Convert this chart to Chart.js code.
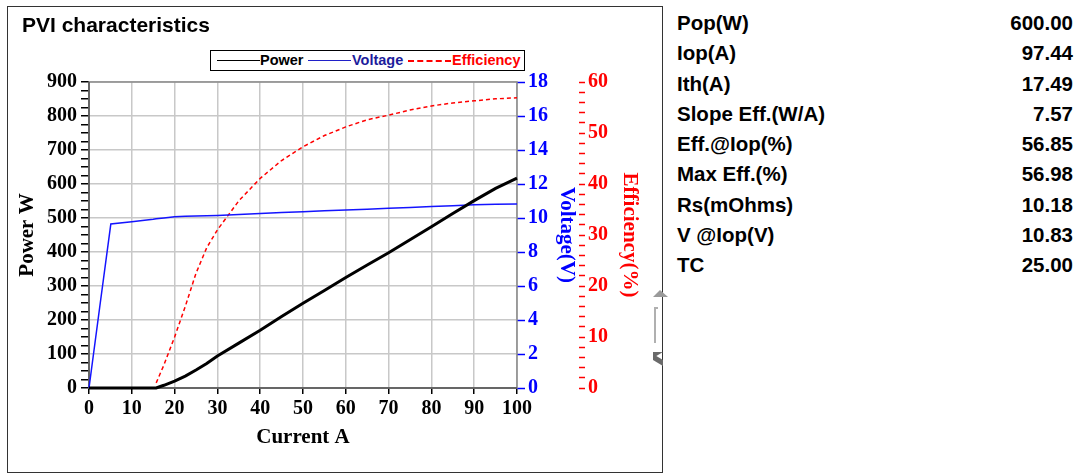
<!DOCTYPE html>
<html>
<head>
<meta charset="utf-8">
<script src="https://cdn.jsdelivr.net/npm/chart.js@4.4.1/dist/chart.umd.min.js"></script>
<style>
html,body{margin:0;padding:0;background:#fff;width:1085px;height:475px;overflow:hidden;}
#frame{position:absolute;left:7px;top:6px;width:656px;height:467px;border:1.5px solid #333;box-sizing:border-box;}
#wrap{position:absolute;left:0;top:0;width:670px;height:475px;}
#title{position:absolute;left:22px;top:14px;font:bold 21px/21px 'Liberation Sans',Arial,sans-serif;color:#000;white-space:nowrap;}
#legend{position:absolute;left:210px;top:50px;width:315px;height:21px;border:1.5px solid #000;box-sizing:border-box;background:#fff;font:bold 14.5px/18px 'Liberation Sans',Arial,sans-serif;}
#legend .sw{position:absolute;top:9px;height:0;width:43px;}
#legend .tx{position:absolute;top:0;white-space:nowrap;}
#table{position:absolute;left:677px;top:8px;width:396px;font:bold 20.5px/30.3px 'Liberation Sans',Arial,sans-serif;color:#000;}
#table .row{display:flex;justify-content:space-between;height:30.3px;white-space:nowrap;}
.art{position:absolute;}
</style>
</head>
<body>
<div id="frame"></div>
<div id="wrap"><canvas id="c"></canvas></div>
<div id="title">PVI characteristics</div>
<div id="legend">
  <span class="sw" style="left:6px;border-top:1.5px solid #000;"></span>
  <span class="tx" style="left:49px;color:#000;">Power</span>
  <span class="sw" style="left:97px;border-top:1.5px solid #2020c8;"></span>
  <span class="tx" style="left:141px;color:#1c1c9c;">Voltage</span>
  <span class="sw" style="left:197px;border-top:2px dashed #ff0000;"></span>
  <span class="tx" style="left:241px;color:#ff0000;">Efficiency</span>
</div>
<div id="table"></div>
<div class="art" style="left:653px;top:290px;width:0;height:0;border-left:7px solid transparent;border-right:8px solid transparent;border-bottom:7px solid #9a9a9a;"></div>
<div class="art" style="left:654px;top:307px;width:2px;height:36px;background:#b0b0b0;"></div>
<div class="art" style="left:654px;top:307px;width:4px;height:2px;background:#b0b0b0;"></div>
<div class="art" style="left:653px;top:352px;width:0;height:0;border-top:6px solid #6a6a6a;border-right:10px solid transparent;"></div>
<div class="art" style="left:653px;top:357px;width:10px;height:6px;background:#6a6a6a;transform:skewY(30deg);"></div>
<script>
// ---- data ----
const currentA      = [0, 2.5, 5.1, 10, 15, 15.7, 17.5, 20, 22.5, 25, 27.5, 30, 35, 40, 45, 50, 55, 60, 65, 70, 75, 80, 85, 90, 95, 100];
const powerW        = [0, 0, 0, 0, 0, 0, 8, 20, 35, 53, 72, 94, 132, 170, 210, 249, 287, 325, 362, 398, 436, 474, 513, 551, 587, 617];
const voltageV      = [0, 4.75, 9.65, 9.78, 9.92, 9.95, 10.0, 10.08, 10.1, 10.12, 10.13, 10.15, 10.2, 10.27, 10.32, 10.37, 10.42, 10.47, 10.52, 10.57, 10.62, 10.67, 10.72, 10.78, 10.81, 10.83];
const efficiencyPct = [null, null, null, null, null, 1, 4.5, 10, 16, 22.5, 27.5, 31, 36.7, 41.1, 44.6, 47.3, 49.5, 51.2, 52.6, 53.5, 54.5, 55.3, 55.9, 56.3, 56.7, 56.9];

const tableLabels = ['Pop(W)', 'Iop(A)', 'Ith(A)', 'Slope Eff.(W/A)', 'Eff.@Iop(%)', 'Max Eff.(%)', 'Rs(mOhms)', 'V @Iop(V)', 'TC'];
const tableValues = ['600.00', '97.44', '17.49', '7.57', '56.85', '56.98', '10.18', '10.83', '25.00'];

// ---- table ----
const tb = document.getElementById('table');
tableLabels.forEach((l, i) => {
  const r = document.createElement('div'); r.className = 'row';
  const a = document.createElement('span'); a.textContent = l;
  const b = document.createElement('span'); b.textContent = tableValues[i];
  r.appendChild(a); r.appendChild(b); tb.appendChild(r);
});

// ---- chart ----
const serif = "'Times New Roman','Liberation Serif',serif";
const tickFont = {family: serif, size: 20, weight: 'bold'};
const titleFont = {family: serif, size: 21, weight: 'bold'};
const pts = (ys) => currentA.map((x, i) => ({x, y: ys[i]})).filter(p => p.y !== null);

const plotFrame = {
  id: 'plotFrame',
  beforeDatasetsDraw(chart) {
    const {ctx, chartArea: a} = chart;
    ctx.save();
    ctx.lineWidth = 1.5;
    ctx.strokeStyle = '#8a8a8a';
    ctx.strokeRect(a.left, a.top, a.right - a.left, a.bottom - a.top);
    ctx.strokeStyle = '#555';
    ctx.beginPath();
    ctx.moveTo(a.left, a.top); ctx.lineTo(a.left, a.bottom); ctx.lineTo(a.right, a.bottom);
    ctx.stroke();
    ctx.restore();
  }
};

new Chart(document.getElementById('c'), {
  type: 'line',
  data: {
    datasets: [
      {label: 'Power', data: pts(powerW), yAxisID: 'y', borderColor: '#000', borderWidth: 3, pointRadius: 0, clip: false},
      {label: 'Voltage', data: pts(voltageV), yAxisID: 'y1', borderColor: '#1414ff', borderWidth: 1.5, pointRadius: 0, clip: false},
      {label: 'Efficiency', data: pts(efficiencyPct), yAxisID: 'y2', borderColor: '#ff0000', borderWidth: 1.5, borderDash: [4, 3], pointRadius: 0, clip: false}
    ]
  },
  options: {
    responsive: true, maintainAspectRatio: false, animation: false, devicePixelRatio: 1,
    layout: {padding: {top: 82, left: 0, right: 0, bottom: 0}},
    plugins: {legend: {display: false}, title: {display: false}, tooltip: {enabled: false}},
    scales: {
      x: {
        type: 'linear', position: 'bottom', min: 0, max: 100,
        ticks: {stepSize: 10, font: tickFont, color: '#000', padding: 3, maxRotation: 0, autoSkip: false},
        grid: {color: '#c8c8c8', lineWidth: 1.5, tickColor: '#000', tickLength: 6, tickWidth: 1.5},
        border: {display: false},
        title: {display: true, text: 'Current A', font: titleFont, color: '#000', padding: {top: 0, bottom: 25}},
        afterFit: s => { s.height = 87; }
      },
      y: {
        position: 'left', min: 0, max: 900,
        ticks: {stepSize: 25, autoSkip: false, font: tickFont, color: '#000', padding: 4,
                callback: v => (v % 100 === 0 ? String(v) : '')},
        grid: {color: c => (c.tick && c.tick.value % 100 === 0 ? '#c8c8c8' : 'rgba(0,0,0,0)'),
               lineWidth: 1.5, tickColor: '#000', tickLength: 8, tickWidth: 1.5},
        border: {display: false},
        title: {display: true, text: 'Power W', font: titleFont, color: '#000', padding: {top: 15, bottom: 0}},
        afterFit: s => { s.width = 89; }
      },
      y1: {
        position: 'right', min: 0, max: 18,
        ticks: {stepSize: 2, autoSkip: false, font: tickFont, color: '#0000ff', padding: 3},
        grid: {drawOnChartArea: false, tickColor: '#0000ff', tickLength: 8, tickWidth: 1.5},
        border: {display: false},
        title: {display: true, text: 'Voltage(V)', font: titleFont, color: '#0000ff', padding: {top: 0, bottom: 0}},
        afterFit: s => { s.width = 62; }
      },
      y2: {
        position: 'right', min: 0, max: 60,
        ticks: {stepSize: 2, autoSkip: false, font: tickFont, color: '#ff0000', padding: 3,
                callback: v => (v % 10 === 0 ? String(v) : '')},
        grid: {drawOnChartArea: false, tickColor: '#ff0000', tickLength: 6, tickWidth: 1.5},
        border: {display: false},
        title: {display: true, text: 'Efficiency(%)', font: titleFont, color: '#ff0000', padding: {top: 28, bottom: 0}},
        afterFit: s => { s.width = 91; }
      }
    }
  },
  plugins: [plotFrame]
});
</script>
</body>
</html>
